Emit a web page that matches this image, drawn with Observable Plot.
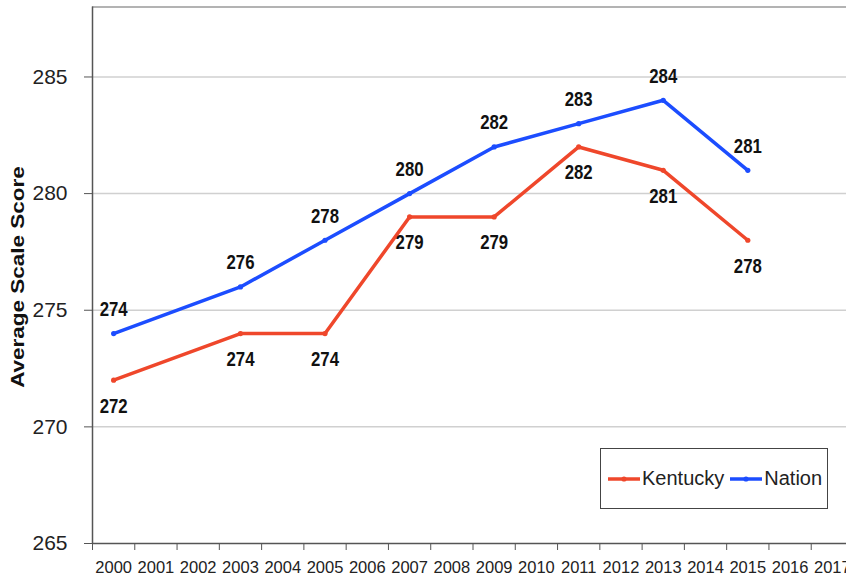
<!DOCTYPE html>
<html>
<head>
<meta charset="utf-8">
<script src="https://cdn.jsdelivr.net/npm/d3@7"></script>
<script src="https://cdn.jsdelivr.net/npm/@observablehq/plot@0.6"></script>
<style>
  html, body { margin: 0; padding: 0; background: #fff; overflow: hidden; }
  #wrap { position: relative; width: 846px; height: 579px; }
  #legend { position: absolute; left: 600px; top: 448px; width: 228px; height: 61px;
    border: 1.5px solid #444; box-sizing: border-box; display: flex; align-items: center;
    font-family: "Liberation Sans", Arial, sans-serif; font-size: 20px; color: #222; }
  #legend .item { display: flex; align-items: center; }
  #legend svg { display: block; }
</style>
</head>
<body>
<div id="wrap"><div id="chart"></div><div id="legend"></div></div>
<script>
const years = [2000, 2001, 2002, 2003, 2004, 2005, 2006, 2007, 2008, 2009, 2010, 2011, 2012, 2013, 2014, 2015, 2016, 2017];
const testYears = [2000, 2003, 2005, 2007, 2009, 2011, 2013, 2015];
const kentucky = [272, 274, 274, 279, 279, 282, 281, 278];
const nation = [274, 276, 278, 280, 282, 283, 284, 281];
const yTicks = [265, 270, 275, 280, 285];
const seriesNames = ["Kentucky", "Nation"];
const colors = ["#ef472b", "#1c4dff"];
const yTitle = "Average Scale Score";

const rows = [];
testYears.forEach((yr, i) => {
  rows.push({series: "Kentucky", year: yr, score: kentucky[i]});
  rows.push({series: "Nation", year: yr, score: nation[i]});
});
const ky = rows.filter(d => d.series === "Kentucky");
const na = rows.filter(d => d.series === "Nation");
const xc = d => d.year + 0.5; // center of the year's band

const font = `"Liberation Sans", Arial, sans-serif`;
const yMax = 288;

const chart = Plot.plot({
  width: 846,
  height: 579,
  marginLeft: 92,
  marginRight: 0,
  marginTop: 7,
  marginBottom: 36,
  style: {fontFamily: font, background: "#fff", overflow: "hidden", color: "#222"},
  x: {domain: [2000, 2018], range: [92, 853]},
  y: {domain: [265, yMax], range: [543, 6.5]},
  color: {domain: seriesNames, range: colors},
  marks: [
    Plot.ruleY(yTicks.filter(t => t > 265), {stroke: "#d0d0d0", strokeWidth: 1.5}),
    Plot.ruleY([yMax], {stroke: "#9a9a9a", strokeWidth: 1.5}),
    Plot.ruleY([265], {stroke: "#555", strokeWidth: 1.5}),
    Plot.ruleX([2000], {y1: 265, y2: yMax, stroke: "#555", strokeWidth: 1.5}),
    Plot.axisY({ticks: yTicks, tickSize: 8, tickPadding: 17, fontSize: 21, stroke: "#555", label: null}),
    Plot.axisX({ticks: years.concat([2018]), tickSize: 7, tickFormat: () => "", stroke: "#555", label: null}),
    Plot.axisX({ticks: years.map(y => y + 0.5), tickSize: 0, tickPadding: 18, fontSize: 16.5,
      tickFormat: d => String(d - 0.5), label: null}),
    Plot.line(rows, {x: xc, y: "score", stroke: "series", z: "series", strokeWidth: 3.5}),
    Plot.dot(rows, {x: xc, y: "score", fill: "series", r: 2.6}),
    Plot.text(na, {x: xc, y: "score", text: d => String(d.score), dy: -24, fontSize: 20, fontWeight: "bold", fill: "#111"}),
    Plot.text(ky, {x: xc, y: "score", text: d => String(d.score), dy: 26, fontSize: 20, fontWeight: "bold", fill: "#111"})
  ]
});
document.getElementById("chart").appendChild(chart);

// condense the bold value labels
d3.select(chart).selectAll("g[aria-label='text'] text").each(function() {
  const el = d3.select(this);
  const x = +el.attr("x") || 0, y = +el.attr("y") || 0;
  const t = el.attr("transform") || "";
  el.attr("transform", `${t} translate(${x},${y}) scale(0.84,1) translate(${-x},${-y})`);
});

// rotated axis title
d3.select(chart).append("text")
  .attr("transform", "translate(18,277) rotate(-90) scale(1,0.82)")
  .attr("text-anchor", "middle").attr("dy", "0.35em")
  .attr("font-family", font).attr("font-weight", "bold").attr("font-size", 22.5)
  .attr("fill", "#111").text(yTitle);

// legend
const lg = d3.select("#legend");
seriesNames.forEach((name, i) => {
  const it = lg.append("div").attr("class", "item").style("margin-left", i === 0 ? "6px" : "5px");
  const s = it.append("svg").attr("width", 34).attr("height", 10);
  s.append("line").attr("x1", 1).attr("x2", 33).attr("y1", 5).attr("y2", 5)
    .attr("stroke", colors[i]).attr("stroke-width", 3.5);
  s.append("circle").attr("cx", 17).attr("cy", 5).attr("r", 2.6).attr("fill", colors[i]);
  it.append("span").text(name).style("margin-left", "1px");
});
</script>
</body>
</html>
